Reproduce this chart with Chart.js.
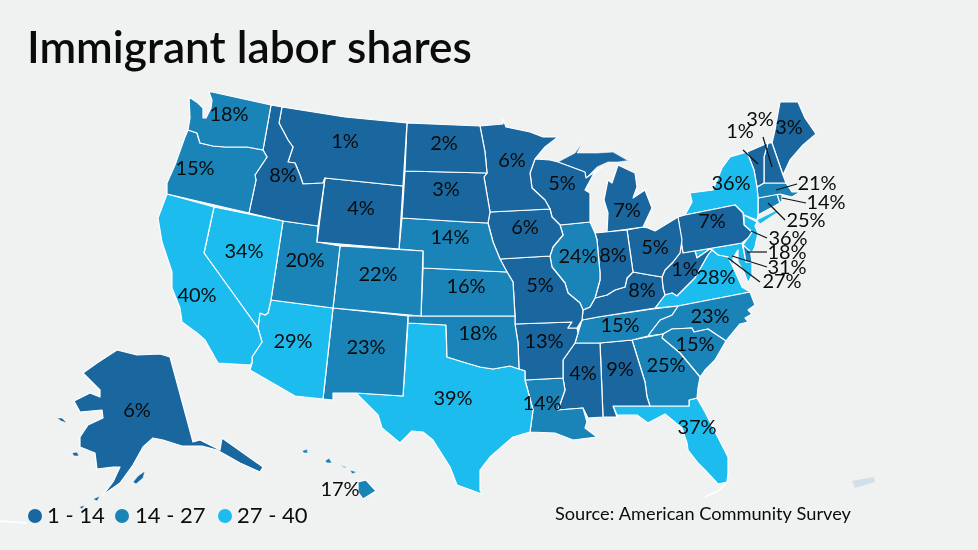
<!DOCTYPE html>
<html>
<head>
<meta charset="utf-8">
<title>Immigrant labor shares</title>
<script src="https://cdn.jsdelivr.net/npm/chart.js@4"></script>
<style>
  html, body { margin: 0; padding: 0; background: #f0f2f2; }
  canvas { display: block; }
</style>
</head>
<body>
<canvas id="mapChart" width="978" height="550"></canvas>
<script>
var titleText = "Immigrant labor shares";
var sourceText = "Source: American Community Survey";

var stateNames = ["WA","OR","CA","NV","ID","MT","WY","UT","CO","AZ","NM","ND","SD","NE","KS","OK","TX","MN","IA","MO","AR","LA","WI","IL","IN","MI","OH","KY","TN","MS","AL","GA","FL","SC","NC","VA","WV","PA","NY","VT","NH","ME","MA","RI","CT","NJ","DE","MD","DC","AK","HI"];
var stateShares = [18,15,40,34,8,1,4,20,22,29,23,2,3,14,16,18,39,6,6,5,13,14,5,24,8,7,5,8,15,4,9,25,37,15,23,28,1,7,36,1,3,3,21,14,25,36,18,31,27,6,17];

var binLabels = ["1 - 14", "14 - 27", "27 - 40"];
var binLimits = [14, 27, 41];
var binColors = ["#1a67a0", "#1a84b9", "#1cbcee"];

// outlines, in map units
var outlines = {
  WA: [[189,97],[198,103],[203,108],[203,118],[206,118],[211,108],[212,100],[209,92],[212,92],[271,105],[263,150],[247,147],[225,147],[213,146],[200,143],[197,133],[188,130],[190,118]],
  OR: [[188,130],[197,133],[200,143],[213,146],[225,147],[247,147],[263,150],[267,157],[255,175],[256,180],[249,213],[167,194],[167,183],[175,165],[185,137]],
  CA: [[167,194],[214,207],[204,253],[258,328],[262,342],[252,357],[252,363],[250,365],[218,363],[205,340],[197,333],[182,322],[180,308],[172,288],[172,272],[162,242],[158,218]],
  NV: [[214,207],[283,221],[271,300],[268,313],[265,315],[260,313],[258,328],[204,253]],
  ID: [[271,105],[282,107],[279,123],[288,140],[293,147],[288,162],[295,163],[300,175],[303,184],[323,183],[325,178],[318,226],[283,221],[249,213],[256,180],[255,175],[267,157],[263,150]],
  MT: [[282,107],[345,117],[407,123],[403,186],[325,178],[323,183],[303,184],[300,175],[295,163],[288,162],[293,147],[288,140],[279,123]],
  WY: [[325,178],[403,186],[399,249],[317,242]],
  UT: [[283,221],[318,226],[317,242],[340,246],[333,308],[271,300]],
  CO: [[340,246],[423,251],[421,316],[333,308]],
  AZ: [[271,300],[333,308],[323,399],[295,396],[250,370],[252,363],[252,357],[262,342],[258,328],[260,313],[265,315],[268,313]],
  NM: [[333,308],[408,316],[403,396],[356,393],[333,393],[333,400],[323,399]],
  ND: [[407,123],[480,126],[485,152],[487,173],[405,171]],
  SD: [[405,171],[487,173],[484,177],[490,212],[488,223],[467,222],[402,218]],
  NE: [[402,218],[467,222],[488,223],[493,242],[500,259],[507,272],[423,268],[423,251],[399,249]],
  KS: [[423,268],[507,272],[513,282],[515,316],[421,316]],
  OK: [[408,316],[515,316],[515,324],[518,343],[519,369],[510,366],[493,369],[480,367],[463,362],[447,357],[446,325],[408,323]],
  TX: [[408,323],[446,325],[447,357],[463,362],[480,367],[493,369],[510,366],[519,369],[525,371],[525,380],[533,410],[530,432],[513,437],[490,457],[480,470],[480,490],[482,494],[457,485],[450,467],[433,440],[423,432],[412,431],[400,443],[382,428],[378,415],[356,393],[403,396]],
  MN: [[480,126],[503,124],[503,119],[506,127],[530,132],[543,137],[558,137],[545,147],[535,159],[530,173],[532,188],[545,200],[550,209],[490,212],[484,177],[487,173],[485,152]],
  IA: [[490,212],[550,209],[552,217],[560,225],[563,235],[553,247],[550,256],[500,259],[493,242],[488,223]],
  MO: [[500,259],[550,256],[552,267],[565,283],[568,293],[580,303],[583,310],[582,320],[577,328],[568,328],[572,322],[515,324],[515,316],[513,282],[507,272]],
  AR: [[515,324],[572,322],[568,328],[577,328],[578,333],[575,343],[563,360],[563,378],[525,380],[525,371],[519,369],[518,343]],
  LA: [[525,380],[563,378],[565,390],[558,410],[583,408],[587,422],[585,428],[597,437],[573,440],[555,433],[530,432],[533,410]],
  WI: [[535,159],[550,160],[558,162],[585,172],[586,178],[602,167],[593,175],[585,190],[590,193],[590,222],[560,225],[552,217],[550,209],[545,200],[532,188],[530,173]],
  IL: [[560,225],[590,222],[595,233],[597,240],[600,273],[600,280],[595,298],[590,307],[583,310],[580,303],[568,293],[565,283],[552,267],[550,256],[553,247],[563,235]],
  IN: [[595,233],[627,230],[633,272],[627,278],[625,287],[615,290],[607,295],[595,298],[600,280],[600,273],[597,240]],
  MI: [[618,165],[635,173],[637,187],[633,198],[645,190],[652,208],[643,227],[607,232],[608,213],[604,200],[608,180],[612,183]],
  OH: [[627,230],[643,227],[648,228],[655,231],[678,217],[682,240],[680,253],[673,262],[665,270],[662,277],[650,275],[633,272]],
  KY: [[633,272],[650,275],[662,277],[663,288],[665,295],[655,308],[598,317],[582,320],[583,310],[590,307],[595,298],[607,295],[615,290],[625,287],[627,278]],
  TN: [[582,320],[598,317],[653,309],[678,306],[672,315],[660,320],[650,333],[648,336],[632,340],[600,343],[575,343],[578,333]],
  MS: [[575,343],[600,343],[603,417],[588,418],[583,408],[558,410],[565,390],[563,378],[563,360]],
  AL: [[600,343],[632,340],[645,382],[647,397],[650,406],[613,406],[617,417],[603,417]],
  GA: [[632,340],[663,334],[662,338],[680,353],[700,377],[698,388],[697,398],[689,400],[689,406],[650,406],[647,397],[645,382]],
  FL: [[613,406],[650,406],[689,406],[689,400],[697,398],[705,412],[728,457],[728,473],[727,482],[718,484],[705,470],[698,463],[688,450],[687,443],[682,428],[665,414],[648,423],[637,415],[617,415]],
  SC: [[663,334],[672,329],[692,328],[694,332],[708,329],[726,341],[715,360],[705,370],[700,377],[680,353],[662,338]],
  NC: [[678,306],[740,294],[750,292],[755,305],[748,310],[752,314],[745,318],[748,322],[740,324],[735,330],[726,341],[708,329],[694,332],[692,328],[672,329],[663,334],[648,336],[650,333],[660,320],[672,315]],
  VA: [[655,308],[665,295],[672,293],[677,296],[695,278],[708,255],[712,250],[718,255],[728,257],[733,267],[742,287],[750,292],[740,294],[678,306]],
  WV: [[680,240],[683,253],[695,251],[697,258],[710,249],[712,250],[708,255],[695,278],[677,296],[672,293],[665,295],[663,288],[662,277],[665,270],[673,262],[680,253]],
  PA: [[678,217],[685,215],[735,205],[743,213],[744,225],[752,232],[748,238],[742,243],[683,253]],
  NY: [[685,215],[692,202],[690,193],[713,190],[722,168],[730,157],[747,152],[754,170],[757,187],[758,198],[758,215],[757,220],[744,215],[743,213],[735,205]],
  VT: [[747,152],[768,143],[764,157],[764,183],[757,187],[754,170]],
  NH: [[768,143],[772,143],[783,175],[786,183],[764,183],[764,157]],
  ME: [[772,143],[775,130],[780,102],[798,102],[805,118],[816,134],[803,145],[790,160],[783,175]],
  MA: [[757,187],[764,183],[786,183],[792,192],[800,192],[792,197],[780,194],[758,198]],
  RI: [[777,194],[782,194],[782,201],[780,203]],
  CT: [[758,198],[777,194],[780,203],[758,215]],
  NJ: [[744,215],[757,222],[755,226],[758,233],[755,247],[752,253],[743,245],[752,232],[744,225]],
  DE: [[743,245],[750,248],[752,262],[746,262]],
  MD: [[695,251],[742,243],[746,262],[752,262],[752,275],[748,283],[744,272],[738,262],[738,250],[733,258],[733,267],[728,257],[718,255],[712,250],[710,249],[697,258]],
  DC: [[726,255],[729,255],[729,258],[726,258]],
  AK: [[170,357],[193,442],[200,440],[220,450],[222,438],[263,467],[260,472],[240,463],[217,450],[202,446],[182,446],[163,440],[153,438],[143,447],[133,465],[120,483],[103,495],[113,482],[120,467],[113,467],[97,469],[95,453],[80,447],[80,437],[88,425],[103,418],[102,410],[80,412],[74,401],[90,393],[100,397],[100,390],[83,373],[97,363],[117,350],[137,355],[160,354]],
  HI: [[358,482],[366,480],[376,491],[363,499],[358,492]]
};

// pieces that belong to a state but are a shape of their own
var islandOwners = ["MI","AK","AK","AK","AK","AK","HI","HI","HI","HI","NY"];
var islandOutlines = [
  [[558,162],[575,153],[582,143],[577,153],[597,153],[613,152],[627,160],[632,160],[618,162],[608,162],[597,167],[586,178],[585,172]],
  [[57,418],[62,418],[67,423],[61,421]],
  [[72,453],[77,452],[79,456],[74,456]],
  [[133,482],[138,476],[145,471],[143,478],[136,484]],
  [[93,499],[100,496],[97,501]],
  [[79,507],[85,505],[82,509]],
  [[302,451],[307,449],[308,453],[304,453]],
  [[325,461],[329,458],[332,463],[327,463]],
  [[339,465],[347,467],[345,468]],
  [[350,470],[357,472],[352,474]],
  [[757,220],[775,211],[778,212],[760,224]]
];
var otherLand = [[852,481],[874,477],[875,482],[855,488]];
var otherLandColor = "#d0dfe8";

// white slivers of small islands and inlets
var slivers = [
  [[0,521],[27,523]],
  [[705,497],[718,491],[728,482]],
  [[738,250],[735,260],[738,272]]
];

var labelText = ["18%","15%","40%","34%","8%","1%","4%","20%","22%","29%","23%","2%","3%","14%","16%","18%","39%","6%","6%","5%","13%","14%","5%","24%","8%","7%","5%","8%","15%","4%","9%","25%","37%","15%","23%","28%","1%","7%","36%","1%","3%","3%","21%","14%","25%","36%","18%","31%","27%","6%","17%"];
var labelX = [229,195,197,244,283,345,361,305,378,293,366,444,446,450,466,478,453,512,525,540,544,542,562,578,613,627,655,642,620,583,620,666,697,695,710,716,685,712,731,740,760,789,817,826,806,788,787,787,782,137,340];
var labelY = [115,169,296,252,176,142,209,261,275,342,348,144,190,238,287,334,399,161,228,286,342,404,184,257,256,211,248,291,326,374,370,366,428,345,317,278,270,222,184,132,120,128,184,203,221,239,253,268,282,411,490];

var leaderLines = [
  [[743,150],[758,164]],
  [[763,137],[772,167]],
  [[797,184],[776,190]],
  [[806,203],[782,198]],
  [[785,220],[768,203]],
  [[767,238],[751,231]],
  [[767,252],[747,252]],
  [[767,267],[732,256]],
  [[760,282],[728,258]]
];

var legendDotX = [35, 122, 225];
var legendTextX = [47, 135, 237];
var legendY = 516;

function binColor(share) {
  for (var i = 0; i < binLimits.length; i++) {
    if (share < binLimits[i]) return binColors[i];
  }
  return binColors[binColors.length - 1];
}

function toPoints(list) {
  var pts = list.map(function(p) { return {x: p[0], y: p[1]}; });
  pts.push({x: list[0][0], y: list[0][1]});
  return pts;
}

function openPoints(list) {
  return list.map(function(p) { return {x: p[0], y: p[1]}; });
}

function landDataset(name, list, color) {
  return {
    label: name,
    data: toPoints(list),
    showLine: true,
    fill: 'shape',
    tension: 0,
    pointRadius: 0,
    backgroundColor: color,
    borderColor: '#ffffff',
    borderWidth: 1.2,
    borderJoinStyle: 'round'
  };
}

function lineDataset(name, list, color, width) {
  return {
    label: name,
    data: openPoints(list),
    showLine: true,
    fill: false,
    tension: 0,
    pointRadius: 0,
    borderColor: color,
    borderWidth: width
  };
}

var datasets = [];

// first dataset is drawn on top
leaderLines.forEach(function(l, i) {
  datasets.push(lineDataset('leader ' + i, l, '#111111', 1.2));
});
datasets.push({
  label: 'legend',
  data: legendDotX.map(function(x) { return {x: x, y: legendY}; }),
  pointRadius: 7,
  pointHoverRadius: 7,
  pointBorderWidth: 0,
  pointBackgroundColor: binColors
});
slivers.forEach(function(l, i) {
  datasets.push(lineDataset('sliver ' + i, l, '#ffffff', 1.5));
});
stateNames.forEach(function(name, i) {
  datasets.push(landDataset(name, outlines[name], binColor(stateShares[i])));
});
islandOutlines.forEach(function(list, i) {
  var share = stateShares[stateNames.indexOf(islandOwners[i])];
  datasets.push(landDataset(islandOwners[i] + ' piece', list, binColor(share)));
  datasets[datasets.length - 1].borderWidth = 0.6;
});
datasets.push(landDataset('PR', otherLand, otherLandColor));
datasets[datasets.length - 1].borderWidth = 0;

var textPlugin = {
  id: 'mapText',
  afterDraw: function(chart) {
    var ctx = chart.ctx;
    var sx = chart.scales.x, sy = chart.scales.y;
    ctx.save();
    ctx.fillStyle = '#0b0b0b';
    ctx.textBaseline = 'middle';

    ctx.textAlign = 'center';
    ctx.font = '400 20px Lato';
    labelText.forEach(function(t, i) {
      ctx.fillText(t, sx.getPixelForValue(labelX[i]), sy.getPixelForValue(labelY[i]));
    });

    ctx.textAlign = 'left';
    ctx.font = '400 22px Lato';
    binLabels.forEach(function(t, i) {
      ctx.fillText(t, sx.getPixelForValue(legendTextX[i]), sy.getPixelForValue(legendY));
    });

    ctx.font = '400 18.2px Lato';
    ctx.fillText(sourceText, 555, 514);

    ctx.font = '600 44.2px Lato';
    ctx.fillText(titleText, 27, 49);
    ctx.restore();
  }
};

var chart = new Chart(document.getElementById('mapChart').getContext('2d'), {
  type: 'scatter',
  data: { datasets: datasets },
  options: {
    responsive: false,
    animation: false,
    layout: { padding: 0, autoPadding: false },
    plugins: {
      legend: { display: false },
      title: { display: false },
      tooltip: { enabled: false }
    },
    scales: {
      x: { type: 'linear', min: 0, max: 978, display: false },
      y: { type: 'linear', min: 0, max: 550, reverse: true, display: false }
    }
  },
  plugins: [textPlugin]
});
</script>
</body>
</html>
